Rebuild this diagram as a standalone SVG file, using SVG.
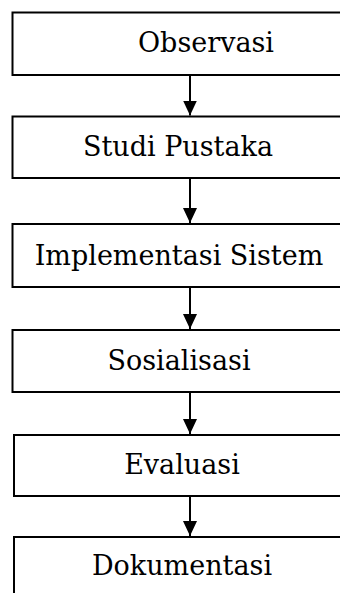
<svg xmlns="http://www.w3.org/2000/svg" width="340" height="593" viewBox="0 0 340 593">
<defs>
<marker id="ah" markerUnits="userSpaceOnUse" markerWidth="16" markerHeight="16" viewBox="0 0 16 16" refX="15" refY="8" orient="auto">
<path d="M0,1 L15,8 L0,15 Z" fill="#000"/>
</marker>
<style>
.box{fill:#fff;stroke:#000;stroke-width:2}
.lbl{font-family:"DejaVu Serif","Liberation Serif",serif;font-size:27px;fill:#000;text-anchor:middle}
.con{stroke:#000;stroke-width:2;fill:none}
</style>
</defs>
<rect width="340" height="593" fill="#fff"/>
<g id="n1"><rect class="box" x="12.5" y="12.5" width="340" height="62.5"/><text class="lbl" x="206" y="52">Observasi</text></g>
<g id="n2"><rect class="box" x="12.5" y="116.5" width="340" height="61.5"/><text class="lbl" x="178" y="156">Studi Pustaka</text></g>
<g id="n3"><rect class="box" x="12.5" y="224" width="340" height="63"/><text class="lbl" x="179" y="265">Implementasi Sistem</text></g>
<g id="n4"><rect class="box" x="12.5" y="330" width="340" height="62"/><text class="lbl" x="179" y="370">Sosialisasi</text></g>
<g id="n5"><rect class="box" x="14" y="435" width="340" height="61"/><text class="lbl" x="182" y="474">Evaluasi</text></g>
<g id="n6"><rect class="box" x="14" y="537" width="340" height="70"/><text class="lbl" x="182" y="575">Dokumentasi</text></g>
<g id="connectors">
<line class="con" x1="190" y1="75" x2="190" y2="115.5" marker-end="url(#ah)"/>
<line class="con" x1="190" y1="178" x2="190" y2="223" marker-end="url(#ah)"/>
<line class="con" x1="190" y1="287" x2="190" y2="329" marker-end="url(#ah)"/>
<line class="con" x1="190" y1="392" x2="190" y2="434" marker-end="url(#ah)"/>
<line class="con" x1="190" y1="496" x2="190" y2="536" marker-end="url(#ah)"/>
</g>
</svg>
